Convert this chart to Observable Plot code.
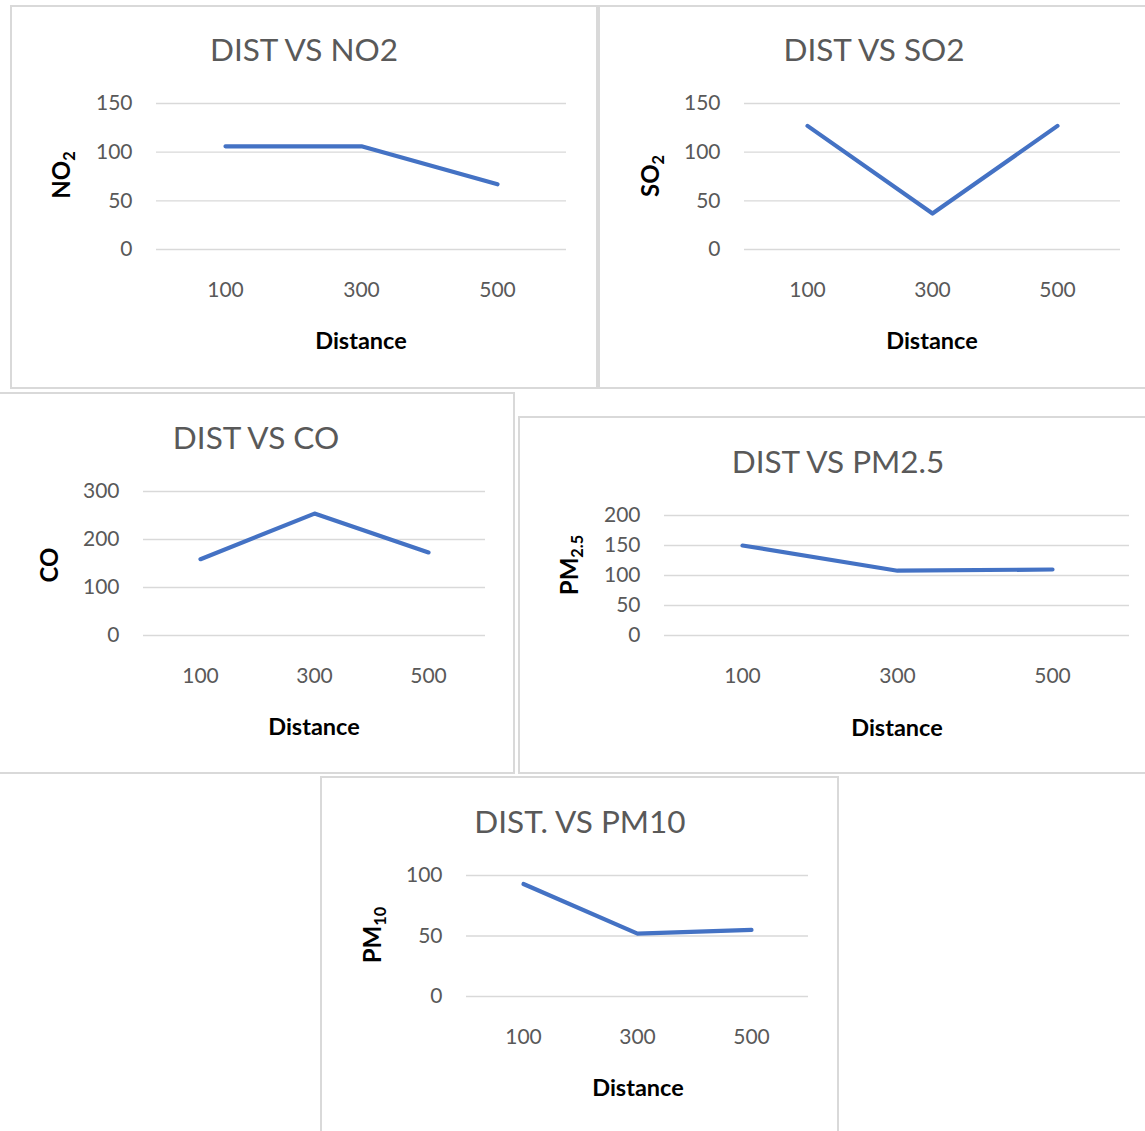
<!DOCTYPE html>
<html>
<head>
<meta charset="utf-8">
<script src="https://cdn.jsdelivr.net/npm/d3@7"></script>
<script src="https://cdn.jsdelivr.net/npm/@observablehq/plot@0.6"></script>
<style>
  html, body { margin: 0; padding: 0; background: #fff; }
  body { width: 1145px; height: 1131px; position: relative; overflow: hidden; font-family: Lato, "Open Sans", sans-serif; }
  .panel { position: absolute; border: 2px solid #d9d9d9; box-sizing: border-box; background: #fff; }
  .title { position: absolute; transform: translate(-50%, -50%); white-space: nowrap; color: #595959; font-size: 31.5px; font-family: Lato, sans-serif; }
  .xlab { position: absolute; transform: translate(-50%, -50%); white-space: nowrap; color: #000; font-weight: bold; font-size: 23.5px; font-family: Lato, sans-serif; }
  .ylab { position: absolute; transform: translate(-50%, -50%) rotate(-90deg); white-space: nowrap; color: #000; font-weight: bold; font-size: 24px; font-family: Lato, sans-serif; }
  .ylab sub { font-size: 0.68em; vertical-align: -0.25em; }
  .plot { position: absolute; }
</style>
</head>
<body>
<script>
// ---- data ----
const distances = ["100", "300", "500"];
const no2 = [106, 106, 67];
const so2 = [127, 37, 127];
const co = [159, 254, 173];
const pm25 = [150, 108, 110];
const pm10 = [93, 52, 55];

const titles = ["DIST VS NO2", "DIST VS SO2", "DIST VS CO", "DIST VS PM2.5", "DIST. VS PM10"];
const yLabels = ["NO<sub>2</sub>", "SO<sub>2</sub>", "CO", "PM<sub>2.5</sub>", "PM<sub>10</sub>"];
const xLabel = "Distance";
const ticksNO2 = [0, 50, 100, 150];
const ticksSO2 = [0, 50, 100, 150];
const ticksCO = [0, 100, 200, 300];
const ticksPM25 = [0, 50, 100, 150, 200];
const ticksPM10 = [0, 50, 100];

// ---- layout (page pixels) ----
const panels = [
  {values: no2, ticks: ticksNO2, box: [10, 5, 588, 384], grid: [156, 566, 103, 249], title: [304, 49], ylab: [62, 175], xlab: [361, 340]},
  {values: so2, ticks: ticksSO2, box: [598, 5, 560, 384], grid: [744, 1120, 103, 249], title: [874, 49], ylab: [651, 176], xlab: [932, 340]},
  {values: co, ticks: ticksCO, box: [-3, 392, 518, 382], grid: [143, 485, 491, 635], title: [256, 437], ylab: [48, 565], xlab: [314, 726]},
  {values: pm25, ticks: ticksPM25, box: [518, 416, 640, 358], grid: [664, 1129, 515, 635], title: [838, 461], ylab: [570, 565], xlab: [897, 727]},
  {values: pm10, ticks: ticksPM10, box: [320, 776, 519, 360], grid: [466, 808, 875, 996], title: [580, 821], ylab: [373, 935], xlab: [638, 1087]}
];

panels.forEach((p, i) => {
  const [bx, by, bw, bh] = p.box;
  const box = document.createElement("div");
  box.className = "panel";
  Object.assign(box.style, {left: bx + "px", top: by + "px", width: bw + "px", height: bh + "px"});
  document.body.appendChild(box);
});

panels.forEach((p, i) => {
  const [gl, gr, gt, gb] = p.grid;
  const mL = 120, mR = 20, mT = 20, mB = 70;
  const data = distances.map((d, k) => ({d, v: p.values[k]}));
  const chart = Plot.plot({
    width: (gr - gl) + mL + mR,
    height: (gb - gt) + mT + mB,
    marginLeft: mL, marginRight: mR, marginTop: mT, marginBottom: mB,
    style: {background: "transparent", fontFamily: "Lato, sans-serif", fontSize: "21px", color: "#595959", overflow: "visible"},
    x: {type: "point", domain: distances, padding: 0.5, label: null},
    y: {domain: [0, d3.max(p.ticks)], label: null},
    marks: [
      Plot.ruleY(p.ticks, {stroke: "#d9d9d9", strokeWidth: 1.3}),
      Plot.axisY({ticks: p.ticks, tickSize: 0, tickPadding: 24, label: null, fontSize: 21, fill: "#595959"}),
      Plot.axisX({tickSize: 0, tickPadding: 33, label: null, fontSize: 21, fill: "#595959"}),
      Plot.line(data, {x: "d", y: "v", stroke: "#4472C4", strokeWidth: 4.2, strokeLinecap: "round", strokeLinejoin: "round"})
    ]
  });
  chart.classList.add("plot");
  chart.style.left = (gl - mL) + "px";
  chart.style.top = (gt - mT) + "px";
  document.body.appendChild(chart);

  const t = document.createElement("div");
  t.className = "title"; t.textContent = titles[i];
  t.style.left = p.title[0] + "px"; t.style.top = p.title[1] + "px";
  document.body.appendChild(t);

  const yl = document.createElement("div");
  yl.className = "ylab"; yl.innerHTML = yLabels[i];
  yl.style.left = p.ylab[0] + "px"; yl.style.top = p.ylab[1] + "px";
  document.body.appendChild(yl);

  const xl = document.createElement("div");
  xl.className = "xlab"; xl.textContent = xLabel;
  xl.style.left = p.xlab[0] + "px"; xl.style.top = p.xlab[1] + "px";
  document.body.appendChild(xl);
});
</script>
</body>
</html>
